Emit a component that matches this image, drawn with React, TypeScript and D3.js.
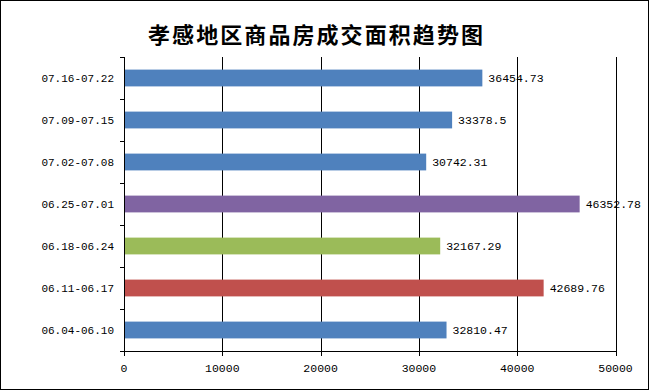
import React from "react";
import * as d3 from "d3";

const categories = [
  "07.16-07.22",
  "07.09-07.15",
  "07.02-07.08",
  "06.25-07.01",
  "06.18-06.24",
  "06.11-06.17",
  "06.04-06.10",
];
const values = [36454.73, 33378.5, 30742.31, 46352.78, 32167.29, 42689.76, 32810.47];
const valueLabels = ["36454.73", "33378.5", "30742.31", "46352.78", "32167.29", "42689.76", "32810.47"];
const barColors = ["#4F81BD", "#4F81BD", "#4F81BD", "#8064A2", "#9BBB59", "#C0504D", "#4F81BD"];
const xTicks = [0, 10000, 20000, 30000, 40000, 50000];
const title = "孝感地区商品房成交面积趋势图";

const W = 649;
const H = 390;
const M = { left: 124, right: 33.5, top: 57, bottom: 39 };

export default function App() {
  const x = d3.scaleLinear().domain([0, 50000]).range([M.left, W - M.right]);
  const y = d3
    .scaleBand<string>()
    .domain(categories)
    .range([M.top, H - M.bottom])
    .paddingInner(0.6)
    .paddingOuter(0.3);
  const yb = d3.scaleBand<string>().domain(categories).range([M.top, H - M.bottom]);
  const mono = "'Liberation Mono', 'DejaVu Sans Mono', monospace";
  const bottom = H - M.bottom;
  return (
    <svg
      width={W}
      height={H}
      style={{ position: "absolute", left: 0, top: 0, background: "#fff" }}
    >
      <rect x={0.5} y={0.5} width={W - 1} height={H - 1} fill="#fff" stroke="#000" strokeWidth={1} />
      <text
        x={148}
        y={43}
        textAnchor="start"
        fontFamily="'Noto Sans CJK SC', sans-serif"
        fontWeight="bold"
        fontSize={22}
        textLength={335}
        lengthAdjust="spacing"
        fill="#000"
      >
        {title}
      </text>
      {/* grid lines */}
      {xTicks.slice(1).map((t) => (
        <line
          key={"g" + t}
          x1={Math.round(x(t)) + 0.5}
          x2={Math.round(x(t)) + 0.5}
          y1={M.top}
          y2={bottom + 5}
          stroke="#000"
          strokeWidth={1}
        />
      ))}
      {/* bars */}
      {categories.map((c, i) => (
        <rect
          key={c}
          x={x(0)}
          y={y(c)}
          width={x(values[i]) - x(0)}
          height={y.bandwidth()}
          fill={barColors[i]}
        />
      ))}
      {/* value labels */}
      {categories.map((c, i) => (
        <text
          key={"v" + c}
          x={x(values[i]) + 6}
          y={(y(c) as number) + y.bandwidth() / 2 + 4}
          fontFamily={mono}
          fontSize={11.5}
          fill="#000"
        >
          {valueLabels[i]}
        </text>
      ))}
      {/* y axis */}
      <line x1={M.left + 0.5} x2={M.left + 0.5} y1={M.top} y2={bottom + 5} stroke="#000" />
      {[...categories.map((c) => yb(c) as number), bottom].map((v, i) => (
        <line
          key={"yt" + i}
          x1={M.left - 4}
          x2={M.left}
          y1={Math.round(v) + 0.5}
          y2={Math.round(v) + 0.5}
          stroke="#000"
        />
      ))}
      {categories.map((c) => (
        <text
          key={"yl" + c}
          x={M.left - 10}
          y={(yb(c) as number) + yb.bandwidth() / 2 + 4}
          textAnchor="end"
          fontFamily={mono}
          fontSize={11}
          fill="#000"
        >
          {c}
        </text>
      ))}
      {/* x axis */}
      <line x1={M.left} x2={x(50000) + 1} y1={Math.round(bottom) + 0.5} y2={Math.round(bottom) + 0.5} stroke="#000" />
      {xTicks.map((t) => (
        <text
          key={"xl" + t}
          x={x(t)}
          y={bottom + 21}
          textAnchor="middle"
          fontFamily={mono}
          fontSize={11.5}
          fill="#000"
        >
          {t}
        </text>
      ))}
    </svg>
  );
}
